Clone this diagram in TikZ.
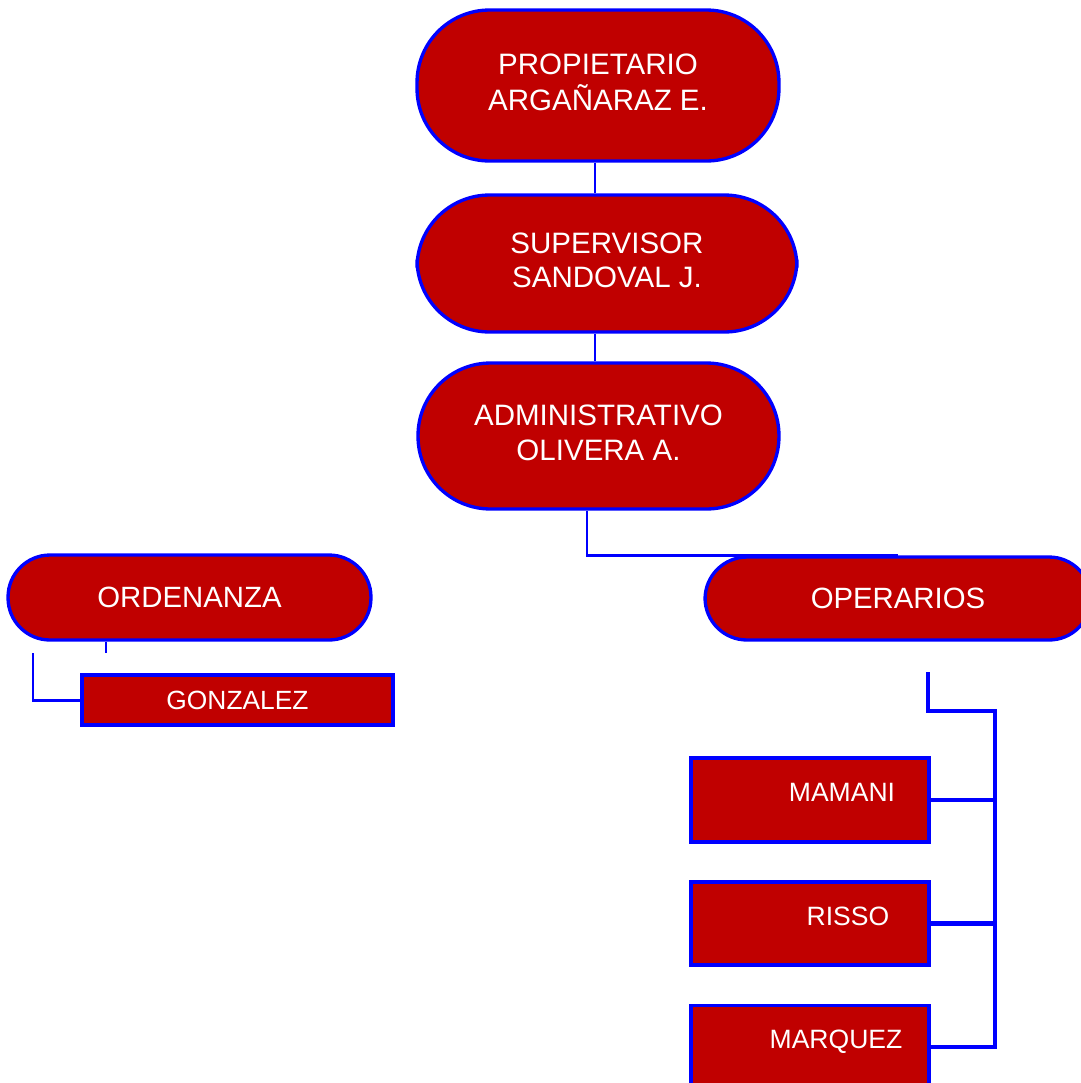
\documentclass[tikz,border=0pt]{standalone}
\usepackage{fontspec}
\setmainfont{Liberation Sans}
\usepackage{tikz}

\definecolor{boxred}{RGB}{192,0,0}
\definecolor{lineblue}{RGB}{0,0,255}

\newcommand{\twolines}[3]{\raisebox{#1}{\begin{tabular}{@{}c@{}}#2\\#3\end{tabular}}}

\tikzset{
  chief/.style={draw=lineblue, line width=1.9pt, fill=boxred, text=white,
    rounded corners=1.45cm, align=center, inner sep=0pt,
    font=\fontsize{16.8}{19.8}\selectfont},
  area/.style={draw=lineblue, line width=1.9pt, fill=boxred, text=white,
    rounded corners=0.84cm, inner sep=0pt,
    font=\fontsize{16.7}{20}\selectfont},
  worker/.style={draw=lineblue, line width=2.1pt, fill=boxred, text=white,
    inner sep=0pt, font=\fontsize{15.1}{18}\selectfont},
  link/.style={draw=lineblue, line width=1.7pt},
  buslink/.style={draw=lineblue, line width=2.3pt},
}

\begin{document}
\begin{tikzpicture}[x=0.02cm, y=-0.02cm]
\useasboundingbox (0,0) rectangle (1081,1083);

% top of the chart
\node[chief, minimum width=7.24cm, minimum height=3.02cm] (prop) at (598,85.5)
  {\twolines{0.1cm}{PROPIETARIO}{ARGAÑARAZ E.}};
\node[chief, minimum width=7.6cm, minimum height=2.74cm] (sup) at (607,263.5)
  {\twolines{0cm}{SUPERVISOR}{SANDOVAL J.}};
\node[chief, minimum width=7.22cm, minimum height=2.92cm] (adm) at (598.5,436)
  {\twolines{0.06cm}{ADMINISTRATIVO}{OLIVERA A.}};

\node[area, minimum width=7.26cm, minimum height=1.7cm] (ord) at (189.5,597.5) {ORDENANZA};
\node[area, minimum width=7.72cm, minimum height=1.66cm] (ope) at (898,598.5) {OPERARIOS};

\node[worker, minimum width=6.22cm, minimum height=1cm, font=\fontsize{15}{18}\selectfont] (gon) at (237.5,700) {GONZALEZ};

\node[worker, minimum width=4.76cm, minimum height=1.68cm] (mam) at (810,800)
  {\hspace*{1.28cm}\raisebox{0.29cm}{MAMANI}};
\node[worker, minimum width=4.76cm, minimum height=1.66cm] (ris) at (810,923.5)
  {\hspace*{1.52cm}\raisebox{0.29cm}{RISSO}};
\node[worker, minimum width=4.76cm, minimum height=1.66cm] (mar) at (810,1047)
  {\hspace*{1.04cm}\raisebox{0.31cm}{MARQUEZ}};

% connectors
\draw[link] ([xshift=-0.06cm]prop.south) -- ([xshift=-0.06cm]prop.south |- sup.north);
\draw[link] ([xshift=-0.06cm]prop.south |- sup.south) -- ([xshift=-0.06cm]prop.south |- adm.north);
\draw[link] ([xshift=-0.23cm]adm.south) |- (ope.north);

\coordinate (ordstub) at (106,653);
\draw[link] (ord.south -| ordstub) -- (ordstub);
\coordinate (gonstub) at (33,653);
\draw[link] (gonstub) |- (gon.west);

\coordinate (opestub) at (928,672);
\coordinate (opebus) at (995,711);
\draw[buslink] (opestub) |- (opebus) |- (mar.east);
\draw[buslink] (mam.east) -- (mam.east -| opebus);
\draw[buslink] (ris.east) -- (ris.east -| opebus);
\end{tikzpicture}
\end{document}
